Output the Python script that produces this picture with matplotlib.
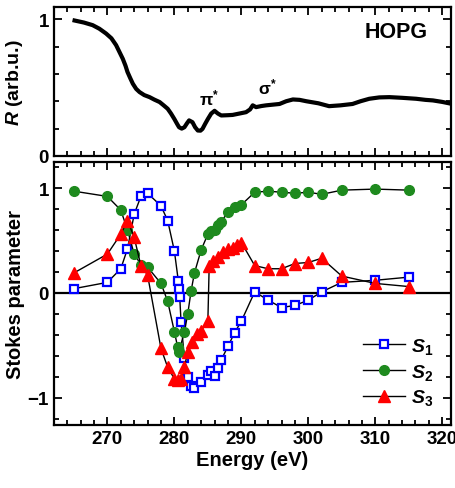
import matplotlib
matplotlib.use('Agg')
import matplotlib.pyplot as plt
from matplotlib.ticker import MultipleLocator

plt.rcParams['font.family'] = ['Liberation Sans', 'DejaVu Sans']
plt.rcParams['font.weight'] = 'bold'
plt.rcParams['mathtext.fontset'] = 'custom'
plt.rcParams['mathtext.it'] = 'Liberation Sans:bold:italic'
plt.rcParams['mathtext.rm'] = 'Liberation Sans:bold'

# reflectivity of HOPG (top panel)
e_r = [265.1, 266.5, 267.8, 268.8, 269.8, 270.6, 271.3, 271.8, 272.3, 272.7, 273.0, 273.4,
       273.8, 274.3, 274.8, 275.5, 276.3, 277.0, 277.8, 278.4, 279.0, 279.5, 280.0, 280.4,
       280.7, 281.1, 281.5, 281.9, 282.2, 282.7, 283.1, 283.5, 283.9, 284.2, 284.6, 285.0,
       285.5, 286.0, 286.5, 287.0, 288.0, 288.7, 289.7, 290.7, 291.3, 291.7, 292.2, 293.0,
       293.7, 294.7, 295.7, 296.7, 297.7, 298.7, 299.7, 301.5, 303.1, 304.8, 306.6, 307.8,
       309.1, 310.6, 312.1, 314.0, 316.1, 317.5, 318.6, 320.0, 321.5]
r_val = [0.99, 0.975, 0.956, 0.93, 0.895, 0.86, 0.81, 0.76, 0.71, 0.66, 0.614, 0.57,
         0.528, 0.49, 0.467, 0.445, 0.43, 0.412, 0.394, 0.37, 0.345, 0.31, 0.27, 0.235,
         0.21, 0.2, 0.21, 0.24, 0.26, 0.247, 0.21, 0.186, 0.185, 0.198, 0.235, 0.27,
         0.31, 0.33, 0.31, 0.296, 0.298, 0.30, 0.31, 0.32, 0.34, 0.37, 0.357, 0.365,
         0.37, 0.375, 0.38, 0.40, 0.413, 0.41, 0.40, 0.385, 0.364, 0.37, 0.38, 0.40,
         0.418, 0.428, 0.43, 0.425, 0.418, 0.41, 0.406, 0.395, 0.38]

# Stokes parameters (bottom panel)
e_s1 = [265, 270, 272, 273, 274, 275, 276, 278, 279, 280, 280.6, 280.7, 280.8, 281, 281.5,
        282, 282.5, 283, 284, 285, 285.5, 286, 286.5, 287, 288, 289, 290, 292, 294, 296,
        298, 300, 302, 305, 310, 315]
s1 = [0.04, 0.10, 0.23, 0.42, 0.75, 0.92, 0.95, 0.83, 0.69, 0.40, 0.11, 0.04, -0.04, -0.28,
      -0.62, -0.80, -0.89, -0.91, -0.85, -0.78, -0.75, -0.79, -0.72, -0.64, -0.51, -0.38,
      -0.27, 0.01, -0.07, -0.14, -0.12, -0.07, 0.01, 0.10, 0.12, 0.15]

e_s2 = [265, 270, 272, 273, 274, 275, 276, 278, 279, 280, 280.5, 280.7, 281.5, 282, 282.5,
        283, 284, 285, 285.5, 286, 286.5, 287, 288, 289, 290, 292, 294, 296, 298, 300, 302,
        305, 310, 315]
s2 = [0.97, 0.92, 0.79, 0.60, 0.37, 0.27, 0.245, 0.09, -0.08, -0.37, -0.52, -0.56, -0.37,
      -0.20, 0.02, 0.19, 0.41, 0.56, 0.59, 0.60, 0.65, 0.68, 0.77, 0.82, 0.84, 0.96, 0.97,
      0.96, 0.95, 0.96, 0.94, 0.98, 0.99, 0.98]

e_s3 = [265, 270, 272, 273, 274, 275, 276, 278, 279, 280, 280.5, 281, 281.5, 282, 282.7,
        283.4, 284, 285, 285.2, 285.8, 286.5, 287.2, 288, 288.7, 289.4, 290, 292, 294, 296,
        298, 300, 302, 305, 310, 315]
s3 = [0.19, 0.37, 0.56, 0.69, 0.53, 0.26, 0.17, -0.53, -0.71, -0.82, -0.83, -0.82, -0.71,
      -0.56, -0.47, -0.39, -0.36, -0.27, 0.26, 0.30, 0.34, 0.39, 0.415, 0.43, 0.46, 0.48,
      0.26, 0.23, 0.23, 0.28, 0.29, 0.33, 0.16, 0.09, 0.06]

fig = plt.figure(figsize=(4.56, 4.89), dpi=100)
ax1 = fig.add_axes([0.118, 0.679, 0.871, 0.305])
ax2 = fig.add_axes([0.118, 0.129, 0.871, 0.538])

for ax in (ax1, ax2):
    ax.set_xlim(262, 321.3)
    ax.xaxis.set_major_locator(MultipleLocator(10))
    ax.xaxis.set_minor_locator(MultipleLocator(2))
    ax.yaxis.set_minor_locator(MultipleLocator(0.2))
    ax.tick_params(which='both', direction='in', top=True, right=True, width=1.3,
                   labelsize=13.5)
    ax.tick_params(which='major', length=6)
    ax.tick_params(which='minor', length=3.5)
    for sp in ax.spines.values():
        sp.set_linewidth(1.6)

# top panel
ax1.plot(e_r, r_val, color='black', lw=3)
ax1.set_ylim(0, 1.09)
ax1.set_yticks([0, 1])
ax1.tick_params(labelbottom=False)
ax1.set_ylabel('$R$ (arb.u.)', fontsize=14, fontweight='bold', labelpad=10)
ax1.text(313.1, 0.91, 'HOPG', fontsize=15.5, fontweight='bold', ha='center', va='center')
ax1.text(285.2, 0.43, r'$\mathrm{\pi^{*}}$', fontsize=12.5, ha='center', va='center')
ax1.text(293.9, 0.51, r'$\mathrm{\sigma^{*}}$', fontsize=12.5, ha='center', va='center')

# bottom panel
ax2.axhline(0, color='black', lw=1.6)
ax2.plot(e_s1, s1, '-s', color='black', lw=1, ms=6, mfc='white', mec='#0000ff',
         mew=1.6, label='$S_1$')
ax2.plot(e_s2, s2, '-o', color='black', lw=1, ms=7, mfc='#1e8a1e', mec='#1e8a1e',
         label='$S_2$')
ax2.plot(e_s3, s3, '-^', color='black', lw=1, ms=8.5, mfc='#ff0000', mec='#ff0000',
         label='$S_3$')
ax2.set_ylim(-1.26, 1.25)
ax2.set_yticks([-1, 0, 1])
ax2.set_xlabel('Energy (eV)', fontsize=14.5, fontweight='bold', labelpad=2)
ax2.set_ylabel('Stokes parameter', fontsize=14.5, fontweight='bold', labelpad=2)
ax2.legend(loc='lower right', frameon=False, fontsize=14, handlelength=2.2,
           handletextpad=0.3, labelspacing=0.3, borderaxespad=0.5)

fig.savefig('out.png', dpi=100)
